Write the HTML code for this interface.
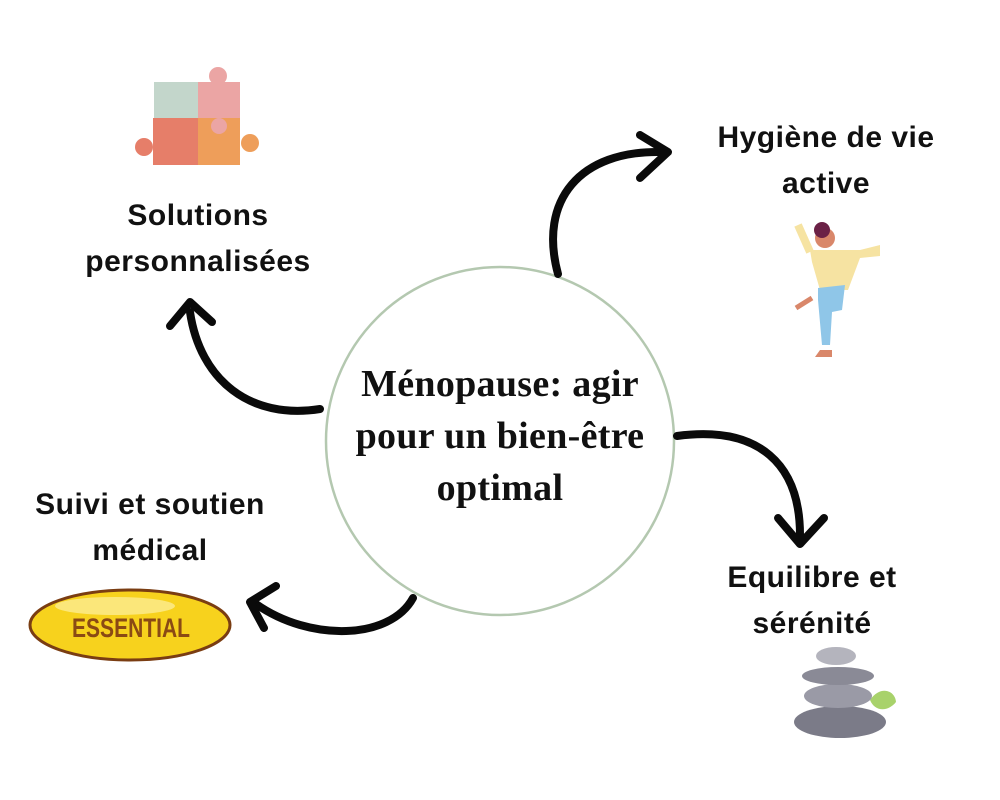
<!DOCTYPE html>
<html><head><meta charset="utf-8"><style>
html,body{margin:0;padding:0;background:#fff;}
.w{position:relative;width:1000px;height:800px;overflow:hidden;}
.t{position:absolute;font-family:"Liberation Sans",sans-serif;font-weight:bold;font-size:30px;color:#111;text-align:center;line-height:46px;letter-spacing:0.5px}
.c{position:absolute;font-family:"Liberation Serif",serif;font-weight:bold;font-size:38px;color:#111;text-align:center;line-height:52px;left:300px;width:400px;top:358px;letter-spacing:0.3px}
</style></head><body><div class="w">
<svg width="1000" height="800" style="position:absolute;left:0;top:0">
<circle cx="500" cy="441" r="174" fill="none" stroke="#b4c8b0" stroke-width="2.5"/>
<g fill="none" stroke="#0a0a0a" stroke-width="8" stroke-linecap="round" stroke-linejoin="round">
<path d="M558,274 C538,200 580,150 662,152"/>
<path d="M640,135 L668,152 L640,178"/>
<path d="M677,436 C760,425 800,465 800,535"/>
<path d="M778,518 L800,544 L824,518"/>
<path d="M320,409 C250,420 200,380 190,312"/>
<path d="M170,326 L190,302 L212,322"/>
<path d="M413,598 C390,640 310,642 256,604"/>
<path d="M276,586 L250,602 L264,628"/>
</g>
<rect x="154" y="82" width="44" height="36" fill="#c3d6cb"/>
<path d="M198,82 L240,82 L240,118 L198,118 Z" fill="#eba5a4"/>
<circle cx="218" cy="76" r="9" fill="#eba5a4"/>
<path d="M153,118 L198,118 L198,165 L153,165 Z" fill="#e67e69"/>
<circle cx="144" cy="147" r="9" fill="#e67e69"/>
<path d="M198,118 L240,118 L240,165 L198,165 Z" fill="#ee9e5a"/>
<circle cx="250" cy="143" r="9" fill="#ee9e5a"/>
<circle cx="219" cy="126" r="8" fill="#eba5a4"/>
<circle cx="825" cy="238" r="10" fill="#d9876a"/>
<circle cx="822" cy="230" r="8" fill="#6b2146"/>
<path d="M810,250 L860,250 L880,245 L880,256 L860,258 L848,290 L820,290 L812,262 Z" fill="#f6e3a2"/>
<path d="M810,252 L798,225" stroke="#f6e3a2" stroke-width="8"/>
<path d="M818,288 L845,285 L842,310 L832,312 L830,345 L822,345 L818,300 Z" fill="#8fc6e8"/>
<path d="M812,298 L796,308" stroke="#d9876a" stroke-width="5"/>
<path d="M820,350 L832,350 L832,357 L815,357 Z" fill="#d9876a"/>
<ellipse cx="130" cy="625" rx="100" ry="35" fill="#f7d21d" stroke="#7a3d12" stroke-width="3"/>
<ellipse cx="115" cy="606" rx="60" ry="9" fill="#fbe77a"/>
<text x="131" y="637" text-anchor="middle" font-family="Liberation Sans Narrow, Liberation Sans, sans-serif" font-weight="bold" font-size="27" fill="#8a4a14" textLength="118" lengthAdjust="spacingAndGlyphs">ESSENTIAL</text>
<path d="M870,700 C880,685 895,690 896,702 C888,712 875,712 870,700Z" fill="#a8d26b"/>
<ellipse cx="840" cy="722" rx="46" ry="16" fill="#7b7b88"/>
<ellipse cx="838" cy="696" rx="34" ry="12" fill="#9a9aa6"/>
<ellipse cx="838" cy="676" rx="36" ry="9" fill="#8a8a96"/>
<ellipse cx="836" cy="656" rx="20" ry="9" fill="#b4b4bd"/>
</svg>
<div class="t" style="left:676px;width:300px;top:115px">Hygiène de vie<br>active</div>
<div class="t" style="left:48px;width:300px;top:193px">Solutions<br>personnalisées</div>
<div class="t" style="left:0px;width:300px;top:482px">Suivi et soutien<br>médical</div>
<div class="t" style="left:662px;width:300px;top:555px">Equilibre et<br>sérénité</div>
<div class="c">Ménopause: agir<br>pour un bien-être<br>optimal</div>
</div></body></html>
